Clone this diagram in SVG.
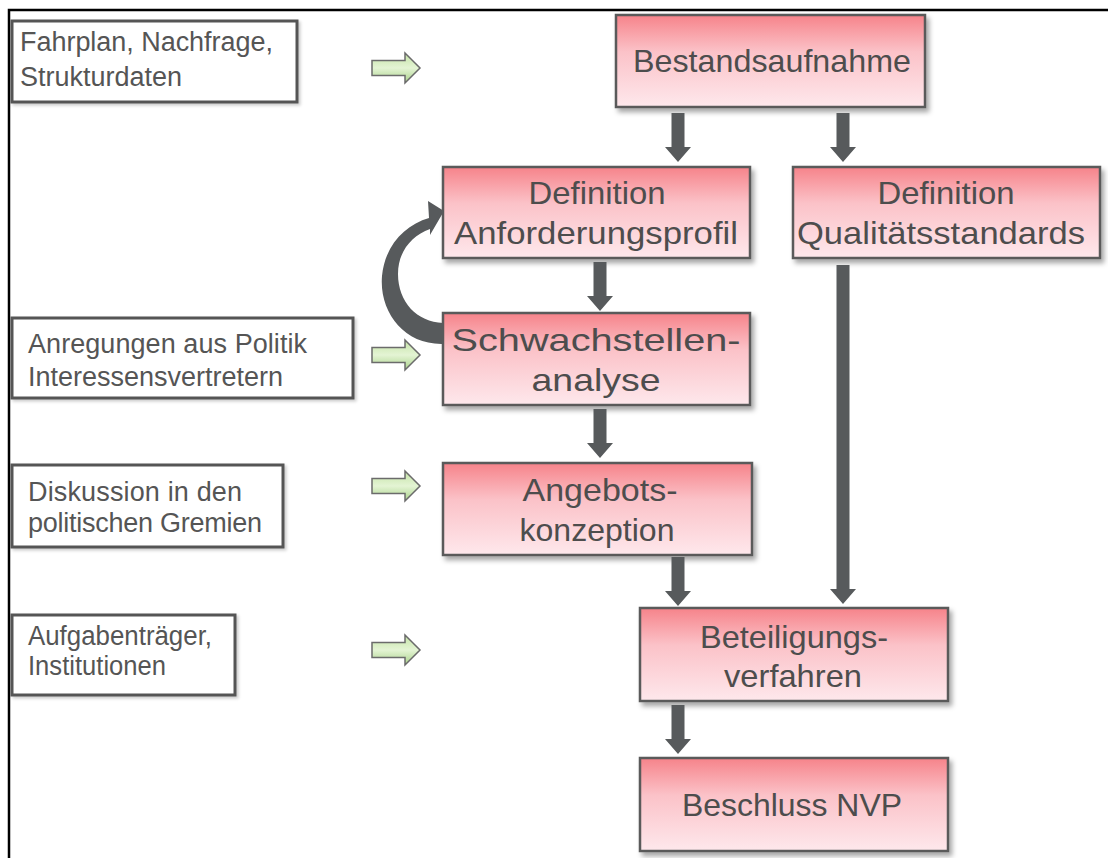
<svg xmlns="http://www.w3.org/2000/svg" width="1108" height="858" viewBox="0 0 1108 858">
<defs>
<linearGradient id="pink" x1="0" y1="0" x2="0" y2="1">
<stop offset="0" stop-color="#f6838a"/>
<stop offset="0.4" stop-color="#fbc2c8"/>
<stop offset="1" stop-color="#fee8ec"/>
</linearGradient>
<linearGradient id="green" x1="0" y1="0" x2="0" y2="1">
<stop offset="0" stop-color="#c4e3a6"/>
<stop offset="0.5" stop-color="#e4f4d4"/>
<stop offset="1" stop-color="#a9d28a"/>
</linearGradient>
<filter id="sh" x="-10%" y="-10%" width="125%" height="135%">
<feDropShadow dx="3" dy="4" stdDeviation="2.5" flood-color="#000" flood-opacity="0.35"/>
</filter>
<filter id="sh2" x="-10%" y="-10%" width="125%" height="135%">
<feDropShadow dx="2" dy="2" stdDeviation="1.5" flood-color="#000" flood-opacity="0.2"/>
</filter>
<polygon id="dn" points="-6.5,0 6.5,0 6.5,34 13,34 0,49 -13,34 -6.5,34" />
<polygon id="ga" points="0,-7.5 33,-7.5 33,-15 48,0 33,15 33,7.5 0,7.5"/>
</defs>
<style>
.pbox{fill:url(#pink);stroke:#5a5a5a;stroke-width:2.5;filter:url(#sh)}
.wbox{fill:#fff;stroke:#555;stroke-width:3;filter:url(#sh2)}
.pt{font-family:"Liberation Sans",Arial,sans-serif;font-size:32px;fill:#4d4d4d;text-anchor:middle}
.lt{font-family:"Liberation Sans",Arial,sans-serif;font-size:27px;fill:#555}
.dark{fill:#575a5c}
.garr{fill:url(#green);stroke:#6b6b6b;stroke-width:1.5}
</style>
<rect width="1108" height="858" fill="#fff"/>
<path d="M9 858 V10 H1108" fill="none" stroke="#000" stroke-width="2.5"/>

<g id="in1"><rect class="wbox" x="12" y="21" width="285" height="81"/>
<text class="lt" x="20" y="51" textLength="253" lengthAdjust="spacing">Fahrplan, Nachfrage,</text>
<text class="lt" x="20" y="86">Strukturdaten</text></g>
<g id="in2"><rect class="wbox" x="12" y="318" width="341" height="80"/>
<text class="lt" x="28" y="353" textLength="279" lengthAdjust="spacing">Anregungen aus Politik</text>
<text class="lt" x="28" y="386">Interessensvertretern</text></g>
<g id="in3"><rect class="wbox" x="12" y="465" width="271" height="82"/>
<text class="lt" x="28" y="501" textLength="214" lengthAdjust="spacing">Diskussion in den</text>
<text class="lt" x="28" y="532" textLength="234" lengthAdjust="spacing">politischen Gremien</text></g>
<g id="in4"><rect class="wbox" x="12" y="615" width="223" height="80"/>
<text class="lt" x="28" y="645" textLength="184" lengthAdjust="spacingAndGlyphs">Aufgabenträger,</text>
<text class="lt" x="28" y="675" textLength="138" lengthAdjust="spacingAndGlyphs">Institutionen</text></g>

<g id="n1"><rect class="pbox" x="616" y="15" width="309" height="92"/>
<text class="pt" x="772" y="72" textLength="278" lengthAdjust="spacingAndGlyphs">Bestandsaufnahme</text></g>
<g id="n2"><rect class="pbox" x="443" y="167" width="307" height="91"/>
<text class="pt" x="597" y="204" textLength="137" lengthAdjust="spacingAndGlyphs">Definition</text>
<text class="pt" x="596" y="244" textLength="284" lengthAdjust="spacingAndGlyphs">Anforderungsprofil</text></g>
<g id="n3"><rect class="pbox" x="793" y="167" width="307" height="91"/>
<text class="pt" x="946" y="204" textLength="137" lengthAdjust="spacingAndGlyphs">Definition</text>
<text class="pt" x="941" y="244" textLength="288" lengthAdjust="spacingAndGlyphs">Qualitätsstandards</text></g>
<g id="n4"><rect class="pbox" x="443" y="313" width="307" height="92"/>
<text class="pt" x="596" y="351" textLength="289" lengthAdjust="spacingAndGlyphs">Schwachstellen-</text>
<text class="pt" x="596" y="391" textLength="129" lengthAdjust="spacingAndGlyphs">analyse</text></g>
<g id="n5"><rect class="pbox" x="443" y="463" width="309" height="92"/>
<text class="pt" x="600" y="501" textLength="155" lengthAdjust="spacingAndGlyphs">Angebots-</text>
<text class="pt" x="597" y="541" textLength="155" lengthAdjust="spacingAndGlyphs">konzeption</text></g>
<g id="n6"><rect class="pbox" x="640" y="608" width="308" height="93"/>
<text class="pt" x="794" y="648" textLength="188" lengthAdjust="spacingAndGlyphs">Beteiligungs-</text>
<text class="pt" x="793" y="687" textLength="138" lengthAdjust="spacingAndGlyphs">verfahren</text></g>
<g id="n7"><rect class="pbox" x="640" y="758" width="308" height="93"/>
<text class="pt" x="792" y="816" textLength="220" lengthAdjust="spacingAndGlyphs">Beschluss NVP</text></g>

<g id="connectors">
<use href="#dn" class="dark" x="678" y="113"/>
<use href="#dn" class="dark" x="843" y="113"/>
<use href="#dn" class="dark" x="600" y="262"/>
<use href="#dn" class="dark" x="600" y="409"/>
<use href="#dn" class="dark" x="678" y="557"/>
<use href="#dn" class="dark" x="678" y="705"/>
<path class="dark" d="M836.5 265 H849.5 V589 H856 L843 604 L830 589 H836.5 Z"/>
<path class="dark" d="M443 344 C404 345 379 312 382 276 C385 245 405 225 429 218 L428 201 L444 211 L430 235 L430 229 C411 236 398 252 398 274 C398 302 417 322 443 323 Z"/>
<use href="#ga" class="garr" x="372" y="68"/>
<use href="#ga" class="garr" x="372" y="355"/>
<use href="#ga" class="garr" x="372" y="486"/>
<use href="#ga" class="garr" x="372" y="650"/>
</g>
</svg>
